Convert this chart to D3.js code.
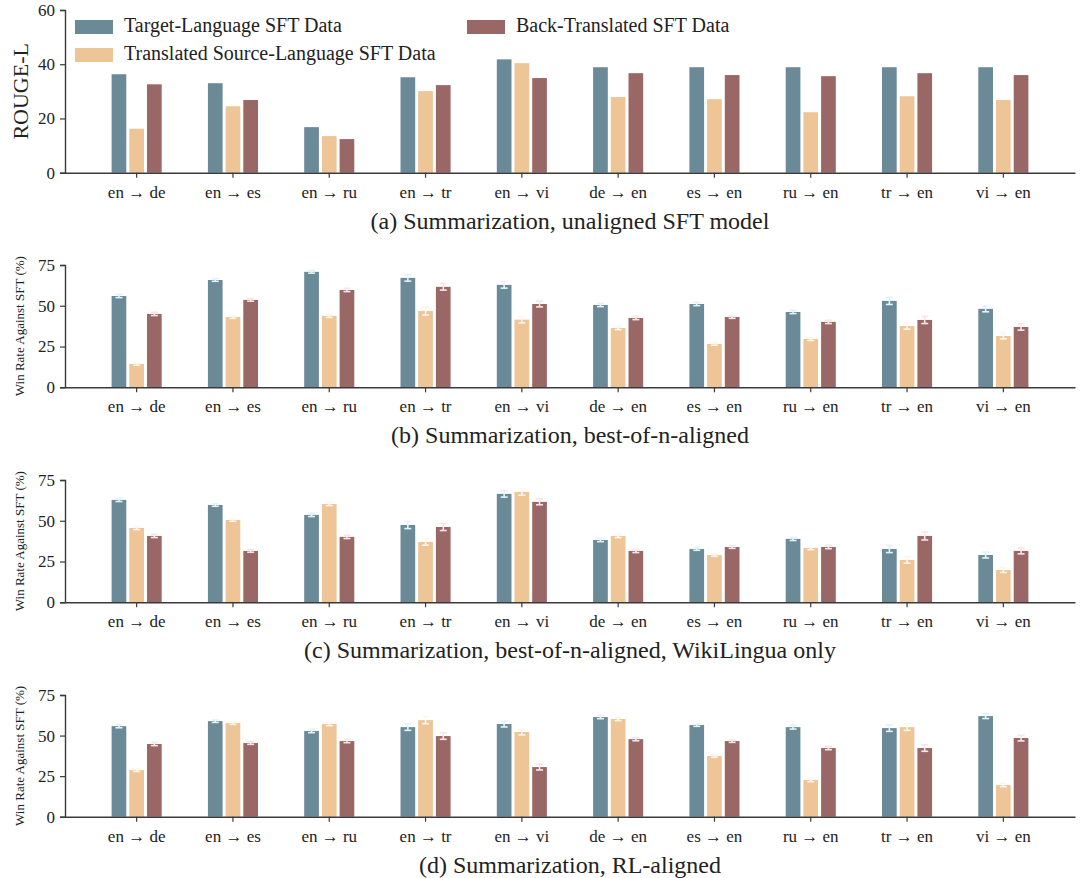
<!DOCTYPE html>
<html lang="en">
<head>
  <meta charset="UTF-8">
  <title>Summarization win rates</title>
  <script src="https://d3js.org/d3.v7.min.js"></script>
  <style>
    body { margin: 0; background: #fff; }
    svg { display: block; font-family: "Liberation Serif", "DejaVu Serif", serif; }
  </style>
</head>
<body>
  <svg></svg>
  <script>
    const languagePairs = ["en → de", "en → es", "en → ru", "en → tr", "en → vi",
      "de → en", "es → en", "ru → en", "tr → en", "vi → en"];
    const seriesNames = ["Target-Language SFT Data", "Translated Source-Language SFT Data", "Back-Translated SFT Data"];
    const seriesColors = ["#6a8a97", "#edc597", "#9a6767"];
    const errorColors = ["#e3f3f8", "#fff6ea", "#f8e6e6"];

    // (a) ROUGE-L, unaligned SFT model
    const rougeTarget = [36.3, 33.0, 16.8, 35.2, 41.8, 38.9, 38.9, 38.9, 38.9, 38.9];
    const rougeTranslated = [16.2, 24.5, 13.5, 30.1, 40.4, 27.9, 27.1, 22.3, 28.2, 26.8];
    const rougeBack = [32.6, 26.8, 12.4, 32.3, 34.9, 36.7, 36.0, 35.6, 36.7, 36.0];

    // (b) win rate, best-of-n-aligned
    const bonTarget = [56.0, 65.8, 70.8, 67.1, 62.8, 50.5, 51.1, 46.2, 53.0, 48.1];
    const bonTranslated = [14.3, 43.1, 43.8, 46.8, 41.5, 36.4, 26.6, 29.7, 37.6, 31.5];
    const bonBack = [45.0, 53.6, 59.7, 61.6, 51.1, 42.5, 43.1, 40.1, 41.3, 37.0];
    const bonTargetErr = [1.0, 0.8, 0.8, 2.0, 2.0, 1.0, 1.0, 1.0, 2.2, 1.8];
    const bonTranslatedErr = [0.8, 0.8, 1.0, 2.5, 2.0, 1.0, 0.8, 1.0, 2.0, 1.8];
    const bonBackErr = [1.0, 0.8, 1.0, 2.0, 1.8, 1.0, 0.8, 1.0, 2.2, 2.0];

    // (c) win rate, best-of-n-aligned, WikiLingua only
    const wikiTarget = [62.8, 59.7, 53.6, 47.4, 66.5, 38.2, 32.7, 38.9, 32.7, 29.0];
    const wikiTranslated = [45.6, 50.5, 60.3, 37.0, 67.7, 40.7, 29.0, 33.3, 26.0, 19.8];
    const wikiBack = [40.7, 31.5, 40.1, 46.2, 61.6, 31.5, 33.9, 33.9, 40.7, 31.5];
    const wikiTargetErr = [1.0, 0.8, 1.0, 2.2, 2.0, 1.0, 0.8, 1.0, 2.2, 1.8];
    const wikiTranslatedErr = [1.0, 0.8, 1.0, 2.0, 2.0, 1.0, 0.8, 1.0, 2.0, 1.5];
    const wikiBackErr = [1.0, 0.8, 1.0, 2.2, 1.8, 1.0, 0.8, 1.0, 2.5, 1.8];

    // (d) win rate, RL-aligned
    const rlTarget = [55.8, 58.9, 52.8, 55.2, 57.1, 61.4, 56.5, 55.2, 54.6, 62.0];
    const rlTranslated = [28.7, 57.7, 57.1, 59.5, 52.2, 60.2, 37.4, 22.6, 55.2, 19.5];
    const rlBack = [44.8, 45.4, 46.6, 49.7, 30.6, 47.8, 46.6, 42.3, 42.3, 48.5];
    const rlTargetErr = [1.0, 0.8, 1.0, 2.0, 1.8, 1.0, 0.8, 1.2, 2.0, 1.5];
    const rlTranslatedErr = [0.8, 0.8, 1.0, 2.2, 1.8, 1.0, 0.8, 1.0, 2.0, 1.0];
    const rlBackErr = [1.0, 0.8, 1.0, 2.0, 1.8, 1.0, 0.8, 1.0, 2.0, 1.8];

    const panels = [
      { values: [rougeTarget, rougeTranslated, rougeBack], errors: null,
        ticks: [0, 20, 40, 60], top: 10, bottom: 172.7,
        ylabel: "ROUGE-L", title: "(a) Summarization, unaligned SFT model" },
      { values: [bonTarget, bonTranslated, bonBack], errors: [bonTargetErr, bonTranslatedErr, bonBackErr],
        ticks: [0, 25, 50, 75], top: 265, bottom: 387.3,
        ylabel: "Win Rate Against SFT (%)", title: "(b) Summarization, best-of-n-aligned" },
      { values: [wikiTarget, wikiTranslated, wikiBack], errors: [wikiTargetErr, wikiTranslatedErr, wikiBackErr],
        ticks: [0, 25, 50, 75], top: 480, bottom: 602.3,
        ylabel: "Win Rate Against SFT (%)", title: "(c) Summarization, best-of-n-aligned, WikiLingua only" },
      { values: [rlTarget, rlTranslated, rlBack], errors: [rlTargetErr, rlTranslatedErr, rlBackErr],
        ticks: [0, 25, 50, 75], top: 695, bottom: 816.7,
        ylabel: "Win Rate Against SFT (%)", title: "(d) Summarization, RL-aligned" }
    ];

    const width = 1081, height = 878;
    const left = 65, right = 1075;
    const axisColor = "#3a3a3a";

    const svg = d3.select("svg")
      .attr("width", width)
      .attr("height", height);

    const x = d3.scaleBand()
      .domain(languagePairs)
      .range([left, right])
      .paddingInner(0)
      .paddingOuter(0.244);

    const xSub = d3.scaleBand()
      .domain(d3.range(seriesNames.length))
      .range([-26.55, 26.55])
      .paddingInner(0.17)
      .paddingOuter(0.085);

    panels.forEach((p, pi) => {
      const yMax = p.ticks[p.ticks.length - 1];
      const y = d3.scaleLinear().domain([0, yMax]).range([p.bottom, p.top]);
      const g = svg.append("g");

      // bars
      p.values.forEach((series, si) => {
        g.append("g")
          .selectAll("rect")
          .data(series)
          .join("rect")
          .attr("x", (d, i) => x(languagePairs[i]) + x.bandwidth() / 2 + xSub(si))
          .attr("y", d => y(d))
          .attr("width", xSub.bandwidth())
          .attr("height", d => y(0) - y(d))
          .attr("fill", seriesColors[si]);
      });

      // error bars
      if (p.errors) {
        p.errors.forEach((errs, si) => {
          const cx = i => x(languagePairs[i]) + x.bandwidth() / 2 + xSub(si) + xSub.bandwidth() / 2;
          const eg = g.append("g")
            .attr("stroke", errorColors[si])
            .attr("stroke-width", 1.6);
          errs.forEach((e, i) => {
            const v = p.values[si][i];
            const c = cx(i);
            eg.append("line").attr("x1", c).attr("x2", c).attr("y1", y(v - e)).attr("y2", y(v + e));
            eg.append("line").attr("x1", c - 3.5).attr("x2", c + 3.5).attr("y1", y(v - e)).attr("y2", y(v - e));
            eg.append("line").attr("x1", c - 3.5).attr("x2", c + 3.5).attr("y1", y(v + e)).attr("y2", y(v + e));
          });
        });
      }

      // y axis
      const yAxis = g.append("g")
        .attr("transform", `translate(${left},0)`)
        .call(d3.axisLeft(y).tickValues(p.ticks).tickSize(5).tickPadding(5));
      yAxis.select(".domain").attr("stroke", axisColor).attr("stroke-width", 1.4);
      yAxis.selectAll(".tick line").attr("stroke", axisColor).attr("stroke-width", 1.2);
      yAxis.selectAll(".tick text")
        .attr("fill", "#222")
        .style("font-size", "17px")
        .style("font-family", "'Liberation Serif', serif");

      // x axis
      const xAxis = g.append("g")
        .attr("transform", `translate(0,${p.bottom})`)
        .call(d3.axisBottom(x).tickSize(5).tickPadding(8).tickSizeOuter(0));
      xAxis.select(".domain").attr("stroke", axisColor).attr("stroke-width", 1.4);
      xAxis.selectAll(".tick line").attr("stroke", axisColor).attr("stroke-width", 1.2);
      xAxis.selectAll(".tick text")
        .attr("fill", "#222")
        .style("font-size", "17px")
        .style("font-family", "'Liberation Serif', serif");

      // y label
      const big = pi === 0;
      g.append("text")
        .attr("transform", `translate(${big ? 23 : 21},${(p.top + p.bottom) / 2}) rotate(-90)`)
        .attr("text-anchor", "middle")
        .attr("dominant-baseline", "middle")
        .attr("fill", "#222")
        .style("font-size", big ? "22px" : "13px")
        .text(p.ylabel);

      // panel caption
      g.append("text")
        .attr("x", (left + right) / 2)
        .attr("y", p.bottom + 56)
        .attr("text-anchor", "middle")
        .attr("fill", "#222")
        .style("font-size", "24px")
        .text(p.title);
    });

    // legend in panel (a)
    const legendPos = [[75, 27], [75, 55], [467, 27]];
    const legend = svg.append("g");
    seriesNames.forEach((name, i) => {
      const [lx, ly] = legendPos[i];
      legend.append("rect")
        .attr("x", lx).attr("y", ly - 7)
        .attr("width", 38).attr("height", 14)
        .attr("fill", seriesColors[i]);
      legend.append("text")
        .attr("x", lx + 49).attr("y", ly)
        .attr("dominant-baseline", "middle")
        .attr("fill", "#222")
        .style("font-size", "20px")
        .text(name);
    });
  </script>
</body>
</html>
